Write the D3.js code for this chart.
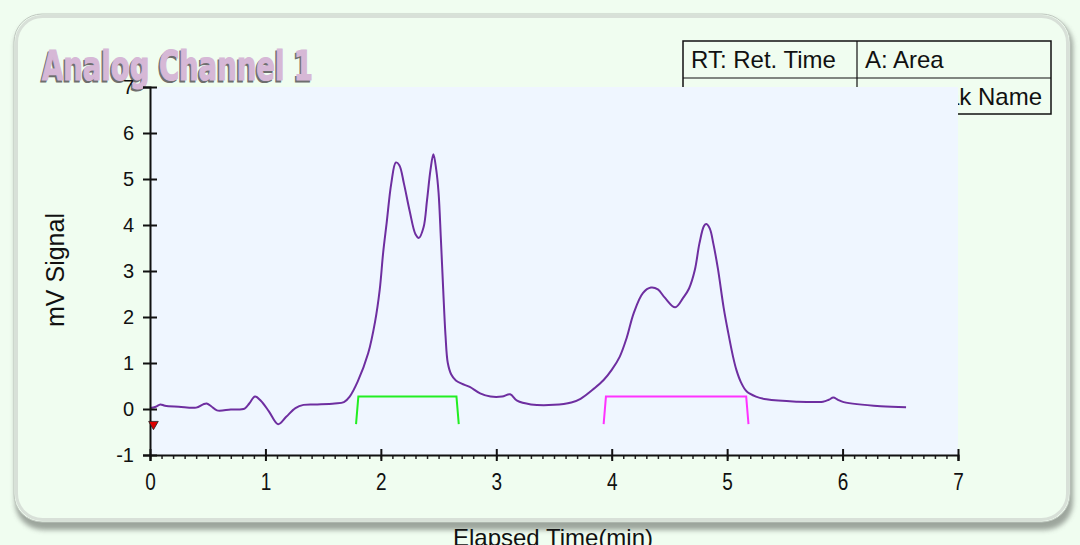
<!DOCTYPE html>
<html>
<head>
<meta charset="utf-8">
<script src="https://cdn.jsdelivr.net/npm/d3@7"></script>
<style>
  html, body { margin: 0; padding: 0; background: #f0fdf0; overflow: hidden; }
  svg { display: block; }
</style>
</head>
<body>
<svg id="chart" width="1080" height="545"></svg>
<script>
// ---- data ----
const timeMin = [0.00,0.05,0.09,0.13,0.25,0.40,0.46,0.49,0.53,0.58,0.70,0.82,0.86,0.91,0.96,1.03,1.11,1.18,1.26,1.33,1.45,1.60,1.68,1.73,1.80,1.89,1.95,1.99,2.02,2.05,2.09,2.13,2.16,2.20,2.25,2.30,2.33,2.37,2.40,2.43,2.455,2.48,2.50,2.52,2.54,2.56,2.58,2.61,2.65,2.70,2.77,2.86,2.95,3.05,3.12,3.18,3.30,3.50,3.65,3.73,3.85,3.93,4.00,4.07,4.13,4.19,4.27,4.34,4.40,4.46,4.55,4.62,4.67,4.72,4.76,4.80,4.82,4.85,4.88,4.92,4.97,5.01,5.05,5.08,5.12,5.17,5.25,5.34,5.60,5.83,5.88,5.92,5.96,6.01,6.33,6.55];
const signalMV = [0.02,0.05,0.10,0.07,0.05,0.03,0.10,0.12,0.06,-0.03,-0.01,0.01,0.12,0.27,0.18,-0.05,-0.33,-0.17,0.02,0.09,0.10,0.12,0.15,0.27,0.60,1.21,1.90,2.59,3.40,4.04,4.90,5.36,5.30,4.90,4.30,3.80,3.72,3.95,4.54,5.20,5.54,5.20,4.70,3.70,2.60,1.60,1.00,0.75,0.62,0.55,0.48,0.34,0.27,0.27,0.32,0.18,0.10,0.09,0.14,0.22,0.45,0.63,0.85,1.14,1.55,2.08,2.52,2.64,2.60,2.42,2.21,2.42,2.62,3.02,3.60,3.98,4.02,3.92,3.60,3.05,2.20,1.65,1.15,0.85,0.58,0.38,0.27,0.21,0.16,0.16,0.20,0.25,0.20,0.15,0.06,0.04];

const peakStart = [1.785, 3.93];
const peakEnd   = [2.675, 5.185];
const bracketTop = 0.27;
const bracketBottom = -0.33;
const markerTime = 0.03;
const markerSignal = -0.33;

const xTicks = [0,1,2,3,4,5,6,7];
const yTicks = [-1,0,1,2,3,4,5,6,7];
const xMinorTicks = d3.range(0, 71).map(d => d / 10);

const titleText = "Analog Channel 1";
const xLabel = "Elapsed Time(min)";
const yLabel = "mV Signal";
const tableRows = [["RT: Ret. Time", "A: Area"], ["H: Height", "N: Peak Name"]];

// ---- drawing ----
const svg = d3.select("#chart");
const defs = svg.append("defs");
const f = defs.append("filter").attr("id", "shadow").attr("x", "-5%").attr("y", "-5%").attr("width", "110%").attr("height", "115%");
f.append("feGaussianBlur").attr("stdDeviation", 2.5);

const x = d3.scaleLinear().domain([0, 7]).range([150, 958]);
const y = d3.scaleLinear().domain([-1, 7]).range([455, 87]);
const fmt = d => String(d);

// frame
svg.append("rect").attr("x", 15).attr("y", 18).attr("width", 1058).attr("height", 512)
  .attr("rx", 28).attr("fill", "#889088").attr("opacity", 0.8).attr("filter", "url(#shadow)");
svg.append("rect").attr("x", 14).attr("y", 14).attr("width", 1056).attr("height", 508)
  .attr("rx", 28).attr("fill", "#f0fdf0").attr("stroke", "#c0c8c0").attr("stroke-width", 1);
svg.append("rect").attr("x", 16.5).attr("y", 16.5).attr("width", 1051).attr("height", 503)
  .attr("rx", 26).attr("fill", "none").attr("stroke", "#d8e0d8").attr("stroke-width", 3);

// table (behind plot area)
const tbl = svg.append("g");
const colX = [683, 857, 1051];
const rowY = [41, 78, 114];
const tFont = "Liberation Sans, Arial, sans-serif";
tbl.append("rect").attr("x", colX[0]).attr("y", rowY[0]).attr("width", colX[2] - colX[0]).attr("height", rowY[2] - rowY[0])
  .attr("fill", "#f0fdf0").attr("stroke", "#111").attr("stroke-width", 1.5);
tbl.append("line").attr("x1", colX[0]).attr("x2", colX[2]).attr("y1", rowY[1]).attr("y2", rowY[1]).attr("stroke", "#111").attr("stroke-width", 1.2);
tbl.append("line").attr("x1", colX[1]).attr("x2", colX[1]).attr("y1", rowY[0]).attr("y2", rowY[2]).attr("stroke", "#111").attr("stroke-width", 1.2);
tableRows.forEach((row, ri) => {
  tbl.append("text").attr("x", colX[0] + 8).attr("y", rowY[ri] + 27).text(row[0])
    .attr("font-family", tFont).attr("font-size", 24).attr("fill", "#111");
  tbl.append("text").attr("x", ri === 0 ? colX[1] + 8 : colX[2] - 9).attr("y", rowY[ri] + 27).text(row[1])
    .attr("text-anchor", ri === 0 ? "start" : "end")
    .attr("font-family", tFont).attr("font-size", 24).attr("fill", "#111");
});

// title
const tg = svg.append("g");
const titleAttrs = sel => sel
  .attr("font-family", "DejaVu Sans Condensed, DejaVu Sans, sans-serif").attr("font-weight", "bold")
  .attr("font-size", 40).attr("textLength", 271).attr("lengthAdjust", "spacingAndGlyphs");
tg.append("text").attr("x", 40.5).attr("y", 82).text(titleText).call(titleAttrs)
  .attr("fill", "#6e6e6e").attr("stroke", "#6e6e6e").attr("stroke-width", 1.2);
tg.append("text").attr("x", 42).attr("y", 80).text(titleText).call(titleAttrs)
  .attr("fill", "#d6b8d6").attr("stroke", "#d6b8d6").attr("stroke-width", 1.2);

// plot background
svg.append("rect").attr("x", x(0)).attr("y", y(7)).attr("width", x(7) - x(0)).attr("height", y(-1) - y(7))
  .attr("fill", "#eff6ff");

// peak brackets
const bracketColors = ["#22ee22", "#ff33ff"];
peakStart.forEach((s, i) => {
  const e = peakEnd[i];
  const pts = [[s, bracketBottom], [s + 0.02, bracketTop], [e - 0.02, bracketTop], [e, bracketBottom]];
  svg.append("path").attr("d", d3.line().x(d => x(d[0])).y(d => y(d[1]))(pts))
    .attr("fill", "none").attr("stroke", bracketColors[i]).attr("stroke-width", 2);
});

// signal line
const pts = timeMin.map((t, i) => [t, signalMV[i]]);
svg.append("path").datum(pts)
  .attr("d", d3.line().x(d => x(d[0])).y(d => y(d[1])).curve(d3.curveCatmullRom.alpha(0.5)))
  .attr("fill", "none").attr("stroke", "#6e2ea0").attr("stroke-width", 2);

// axes
const tickFont = "Liberation Sans, Arial, sans-serif";
const gxMinor = svg.append("g").attr("transform", `translate(0,${y(-1)})`)
  .call(d3.axisBottom(x).tickValues(xMinorTicks).tickSize(4).tickFormat(""));
gxMinor.select(".domain").remove();
gxMinor.selectAll("line").attr("stroke", "#222").attr("stroke-width", 1.5);

const gx = svg.append("g").attr("transform", `translate(0,${y(-1)})`)
  .call(d3.axisBottom(x).tickValues(xTicks).tickSizeOuter(0).tickSize(6).tickPadding(10).tickFormat(fmt));
gx.select(".domain").attr("stroke", "#111").attr("stroke-width", 2);
gx.selectAll(".tick line").attr("y1", -6).attr("y2", 6).attr("stroke", "#111").attr("stroke-width", 2);
gx.selectAll(".tick text").attr("font-family", tickFont).attr("font-size", 19).attr("fill", "#111")
  .attr("transform", "translate(0,-3) scale(1,1.3)");

const gy = svg.append("g").attr("transform", `translate(${x(0)},0)`)
  .call(d3.axisLeft(y).tickValues(yTicks).tickSizeOuter(0).tickSize(7).tickPadding(9).tickFormat(fmt));
gy.select(".domain").attr("stroke", "#111").attr("stroke-width", 2);
gy.selectAll(".tick line").attr("x1", -7).attr("x2", 7).attr("stroke", "#111").attr("stroke-width", 2);
gy.selectAll(".tick text").attr("font-family", tickFont).attr("font-size", 20).attr("fill", "#111");

// marker
svg.append("path")
  .attr("d", d3.symbol().type(d3.symbolTriangle).size(40)())
  .attr("transform", `translate(${x(markerTime)},${y(markerSignal)}) rotate(180)`)
  .attr("fill", "#dd0000").attr("stroke", "#222").attr("stroke-width", 0.8);

// axis labels
svg.append("text").attr("x", 553).attr("y", 546).attr("text-anchor", "middle").text(xLabel)
  .attr("font-family", tickFont).attr("font-size", 24).attr("fill", "#111");
svg.append("text").attr("transform", "translate(64,270) rotate(-90)").attr("text-anchor", "middle").text(yLabel)
  .attr("font-family", tickFont).attr("font-size", 25).attr("fill", "#111");
</script>
</body>
</html>
